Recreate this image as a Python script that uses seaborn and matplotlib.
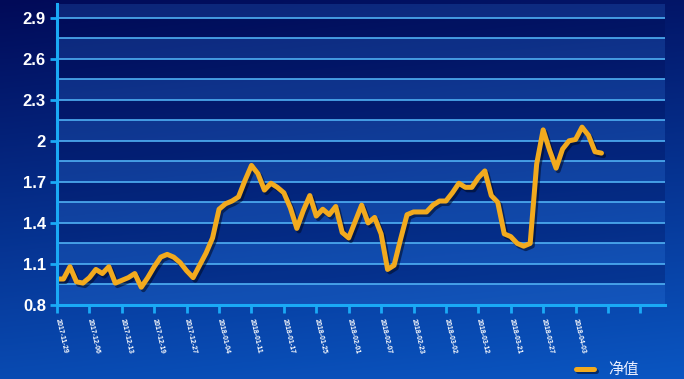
import numpy as np
import matplotlib
matplotlib.use("Agg")
import matplotlib.pyplot as plt
import matplotlib.patheffects as pe
import seaborn as sns

# 净值 series, one point per trading day
nav = [0.99, 0.99, 1.08, 0.97, 0.96, 1.00, 1.06, 1.03, 1.08, 0.96,
       0.98, 1.00, 1.03, 0.93, 1.00, 1.08, 1.15, 1.17, 1.15, 1.11,
       1.05, 1.00, 1.09, 1.18, 1.29, 1.50, 1.54, 1.56, 1.59, 1.71,
       1.82, 1.76, 1.64, 1.69, 1.66, 1.62, 1.51, 1.36, 1.49, 1.60,
       1.45, 1.50, 1.46, 1.52, 1.33, 1.29, 1.41, 1.53, 1.40, 1.44,
       1.32, 1.06, 1.09, 1.28, 1.46, 1.48, 1.48, 1.48, 1.53, 1.56,
       1.56, 1.62, 1.69, 1.66, 1.66, 1.73, 1.78, 1.60, 1.55, 1.32,
       1.30, 1.25, 1.23, 1.25, 1.83, 2.08, 1.93, 1.80, 1.94, 2.00,
       2.01, 2.10, 2.04, 1.92, 1.91]
day = list(range(len(nav)))

# every 5th trading day is labelled
date_labels = ["2017-11-29", "2017-12-06", "2017-12-13", "2017-12-19",
               "2017-12-27", "2018-01-04", "2018-01-11", "2018-01-17",
               "2018-01-25", "2018-02-01", "2018-02-07", "2018-02-23",
               "2018-03-02", "2018-03-12", "2018-03-21", "2018-03-27",
               "2018-04-03", "", ""]
y_ticks = [0.8, 1.1, 1.4, 1.7, 2.0, 2.3, 2.6, 2.9]
y_labels = ["0.8", "1.1", "1.4", "1.7", "2", "2.3", "2.6", "2.9"]
y_minor = [0.95, 1.25, 1.55, 1.85, 2.15, 2.45, 2.75]

sns.set_theme(style="white")
plt.rcParams["font.family"] = ["Liberation Sans", "Noto Sans CJK SC", "DejaVu Sans"]

W, H = 684, 379
fig = plt.figure(figsize=(W / 100, H / 100), dpi=100)

# background gradient: dark navy at top, brighter blue at bottom
bg = fig.add_axes([0, 0, 1, 1], zorder=0)
bg.axis("off")
top = np.array([1, 10, 88]) / 255
bot = np.array([10, 86, 194]) / 255
yy, xx = np.mgrid[0:1:200j, 0:1:200j]
t = np.clip(0.85 * yy + 0.15 * xx, 0, 1)[..., None]
grad = top + (bot - top) * t
bg.imshow(grad, aspect="auto", extent=[0, 1, 0, 1], origin="upper")

ax = fig.add_axes([57 / W, 1 - 305 / H, (665 - 57) / W, (305 - 4) / H], zorder=1)
ax.patch.set_alpha(0)

# alternating bands
for y0 in y_ticks:
    ax.axhspan(y0, y0 + 0.15, color="#3d8cf0", alpha=0.2, lw=0, zorder=0)
    ax.axhspan(y0 + 0.15, y0 + 0.3, color="#000a50", alpha=0.25, lw=0, zorder=0)
for y in y_ticks[1:] + y_minor:
    ax.axhline(y, color="#4fb0f4", lw=1.2, zorder=1)

sns.lineplot(x=day, y=nav, ax=ax, color="#f2aa1e", lw=3.6, label="净值",
             zorder=3)
line = ax.lines[-1]
line.set_solid_capstyle("round")
line.set_solid_joinstyle("round")
line.set_path_effects([pe.SimpleLineShadow(offset=(1.5, -1.8), shadow_color="#000820", alpha=0.55),
                       pe.Normal()])

ax.set_xlim(0, 93.8)
ax.set_ylim(0.8, 3.0)
ax.set_yticks(y_ticks)
ax.set_yticklabels(y_labels, fontsize=12, fontweight="bold", color="white")
ax.set_xticks(list(range(0, 95, 5)))
ax.set_xticklabels(date_labels, fontsize=5, fontweight="bold", color="white",
                   rotation=-77, rotation_mode="anchor", ha="left", va="center")
ax.tick_params(axis="y", length=5, width=2, color="#1aaaf6", pad=3, left=True)
ax.tick_params(axis="x", length=6, width=2, color="#1aaaf6", pad=4, bottom=True)
ax.set_xlabel("")
ax.set_ylabel("")
ax.grid(False)

for s in ["top", "right"]:
    ax.spines[s].set_visible(False)
for s in ["left", "bottom"]:
    ax.spines[s].set_color("#1aaaf6")
    ax.spines[s].set_linewidth(2.2)
    ax.spines[s].set_zorder(4)

leg = ax.legend(loc="center left", bbox_to_anchor=(576 / W, 1 - 370 / H),
                bbox_transform=fig.transFigure, frameon=False, fontsize=11,
                handlelength=1.2, handletextpad=0.9, borderpad=0, borderaxespad=0)
for txt in leg.get_texts():
    txt.set_color("#e8eeff")

fig.savefig("out.png", dpi=100)
